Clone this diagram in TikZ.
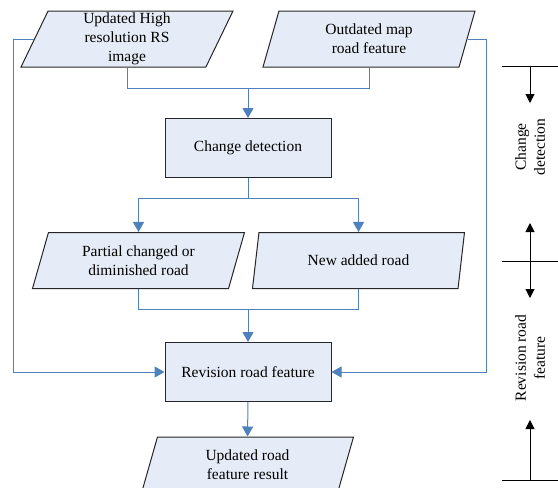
\documentclass[tikz,border=0pt]{standalone}
\usepackage{fontspec}
\setmainfont{Liberation Serif}
\usepackage{tikz}
\usetikzlibrary{shapes.geometric,arrows.meta}
\definecolor{flowblue}{RGB}{79,129,189}
\definecolor{boxfill}{RGB}{230,236,247}

\begin{document}
\begin{tikzpicture}[x=1pt, y=-1pt,
                    every node/.style = {font=\fontsize{15.5}{19}\selectfont, align=center},
                    procbox/.style = {shape=rectangle, draw=black!85, line width=1pt,
                      fill=boxfill, minimum width=166pt, minimum height=59pt},
                    databox/.style = {shape=trapezium, draw=black!85, line width=1pt,
                      fill=boxfill, trapezium left angle=63.4, trapezium right angle=116.6,
                      trapezium stretches body, minimum width=212pt, minimum height=56pt,
                      inner sep=1pt},
                    flow/.style = {draw=flowblue, line width=1pt},
                    flowto/.style = {flow, -{Triangle[length=10pt,width=11pt]}},
                    phase/.style = {draw=black, line width=1pt},
                    phaseto/.style = {phase, -{Triangle[length=9pt,width=9pt]}}]
  \useasboundingbox (0,0) rectangle (558,488);

  % boxes
  \node[databox] (upd) at (127,39) {Updated High\\resolution RS\\image};
  \node[databox] (old) at (369,39) {Outdated map\\road feature};
  \node[procbox] (chg) at (248,148) {Change detection};
  \node[databox] (part) at (138.5,260.5) {Partial changed or\\diminished road};
  \node[databox] (new) at (358.5,260.5) {New added road};
  \node[procbox] (rev) at (248,372) {Revision road feature};
  \node[databox] (res) at (247.5,465) {Updated road\\feature result};

  % joints
  \coordinate (j1) at (248,88);
  \coordinate (j2) at (248,198);
  \coordinate (j3) at (248,309);
  \coordinate (lc) at (13,372);
  \coordinate (rc) at (486,372);

  % connectors
  \draw[flowto] (upd.south) |- (j1) -- (chg.north);
  \draw[flow] (old.south) |- (j1);
  \draw[flow] (chg.south) -- (j2);
  \draw[flowto] (j2) -| (part.north);
  \draw[flowto] (j2) -| (new.north);
  \draw[flow] (new.south) |- (j3);
  \draw[flowto] (part.south) |- (j3) -- (rev.north);
  \draw[flowto] (upd.west) -| (lc) -- (rev.west);
  \draw[flowto] (old.east) -| (rc) -- (rev.east);
  \draw[flowto] (rev.south) -- (res.north);

  % phases on the right
  \coordinate (t1) at (530,66);
  \coordinate (t2) at (530,261);
  \coordinate (t3) at (530,480);
  \coordinate (a1) at (530,103);
  \coordinate (a2) at (530,223);
  \coordinate (a3) at (530,298);
  \coordinate (a4) at (530,420);
  \draw[phase] ([xshift=-28pt]t1) -- ([xshift=28pt]t1);
  \draw[phase] ([xshift=-28pt]t2) -- ([xshift=28pt]t2);
  \draw[phase] ([xshift=-28pt]t3) -- ([xshift=28pt]t3);
  \draw[phaseto] (t1) -- (a1);
  \draw[phaseto] (t2) -- (a2);
  \draw[phaseto] (t2) -- (a3);
  \draw[phaseto] (t3) -- (a4);
  \node[rotate=90] (cdlab) at (530,147) {Change\\detection};
  \node[rotate=90] (rvlab) at (530,358) {Revision road\\feature};
\end{tikzpicture}
\end{document}
